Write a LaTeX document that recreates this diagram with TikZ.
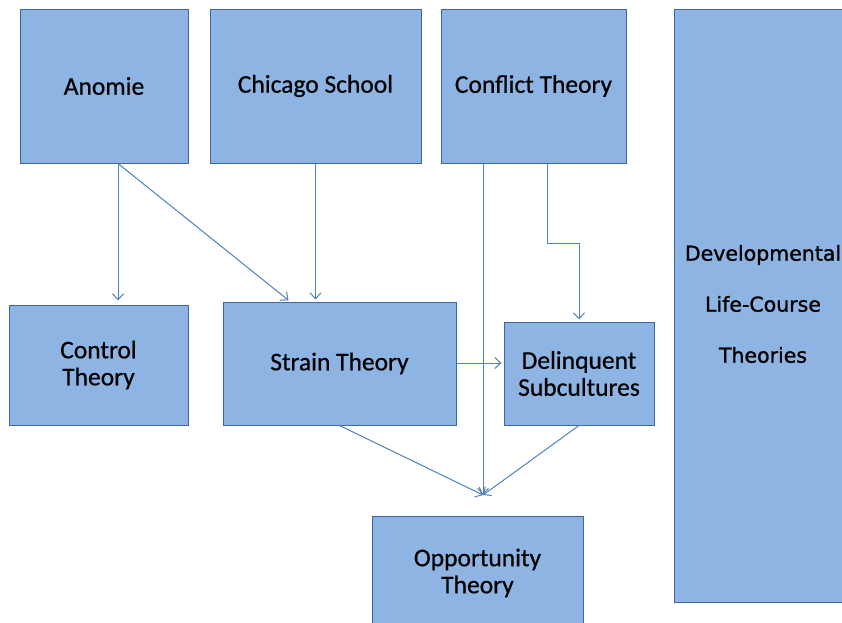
\documentclass[tikz,border=0pt]{standalone}
\usepackage{fontspec}
\setmainfont{Carlito}[FakeBold=0.6]
\newfontfamily\devfont{DejaVu Sans}[FakeBold=1.2]
\usetikzlibrary{positioning}
\usetikzlibrary{arrows.meta,calc}
\definecolor{boxfill}{RGB}{142,180,227}
\definecolor{boxline}{RGB}{62,103,160}
\definecolor{edgeblue}{RGB}{79,129,189}
\tikzstyle{theory}=[rectangle,draw=boxline,fill=boxfill,line width=1pt,inner sep=0pt,align=center,font=\fontsize{25.5}{27}\selectfont]
\tikzstyle{edge} = [draw,line width=1pt,edgeblue,-{Straight Barb[length=6pt,width=11pt]}]

\begin{document}
\begin{tikzpicture}[x=1pt,y=-1pt]

  \fill[white] (0,0) rectangle (842,622);
  \useasboundingbox (0,0) rectangle (842,622);

  % top row and middle row
  \foreach \x/\y/\w/\h/\name/\label in {104/86/168/154/anomie/Anomie,
           315.5/86/211/154/chicago/Chicago School,
           533.5/86/185/154/conflict/Conflict Theory,
           98.5/365/179/120/control/{Control\\Theory},
           339.5/363.5/233/123/strain/Strain Theory,
           579/373.5/150/103/delinq/{Delinquent\\Subcultures},
           477.5/573/211/114/opport/{Opportunity\\Theory}}
          \node[theory, minimum width=\w pt, minimum height=\h pt] (\name) at (\x,\y) {\label};

  % tall box runs off the right edge
  \node[theory, minimum width=200pt, minimum height=593pt, anchor=north west] (develop) at (674,9) {};
  \node[align=center, inner sep=0pt, font=\devfont\fontsize{20.5}{51}\selectfont] (devtext) at (763,304)
        {Developmental\\Life-Course\\Theories};

  \coordinate (meet) at (483,495);

  \path[edge, shorten >=4pt] ([xshift=14pt]anomie.south) -- ([xshift=19.5pt]control.north);
  \path[edge, shorten >=2pt] ([xshift=14pt]anomie.south) -- ([xshift=-49.5pt]strain.north);
  \path[edge, shorten >=2pt] (chicago.south) -- (chicago.south |- strain.north);
  \path[edge] ([xshift=-50.5pt]conflict.south) -- (meet);
  \path[edge, shorten >=2pt] ([xshift=13.5pt]conflict.south) -- ++(0,80) -| (delinq.north);
  \path[edge, shorten >=2pt] ([yshift=0.5pt]strain.east) -- ([yshift=0.5pt]strain.east -| delinq.west);
  \path[edge] (strain.south) -- (meet);
  \path[edge] (delinq.south) -- (meet);

\end{tikzpicture}
\end{document}
